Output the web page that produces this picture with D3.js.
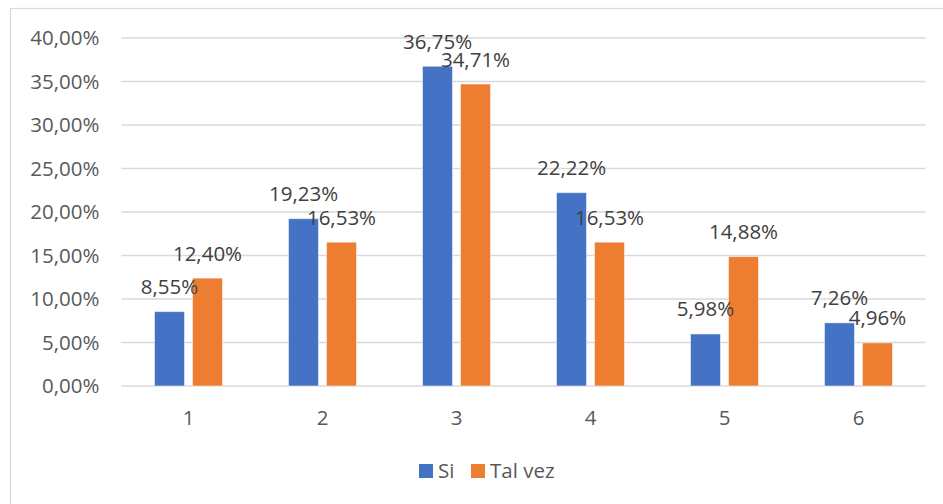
<!DOCTYPE html>
<html>
<head>
<meta charset="utf-8">
<script src="https://cdn.jsdelivr.net/npm/d3@7/dist/d3.min.js"></script>
<style>
  html, body { margin: 0; padding: 0; background: #fff; }
  svg { display: block; font-family: "Open Sans", "Noto Sans", sans-serif; }
</style>
</head>
<body>
<svg id="chart" width="943" height="504"></svg>
<script>
// Categories and series values (shares, as fractions)
const categories = ["1", "2", "3", "4", "5", "6"];
const seriesNames = ["Si", "Tal vez"];
const siValues = [0.0855, 0.1923, 0.3675, 0.2222, 0.0598, 0.0726];
const talVezValues = [0.1240, 0.1653, 0.3471, 0.1653, 0.1488, 0.0496];
const yTicks = [0, 0.05, 0.10, 0.15, 0.20, 0.25, 0.30, 0.35, 0.40];

const colors = { "Si": "#4472C4", "Tal vez": "#ED7D31" };
const seriesValues = { "Si": siValues, "Tal vez": talVezValues };
const fontSize = "20.5px";

const fmt = v => (v * 100).toFixed(2).replace(".", ",") + "%";

const svg = d3.select("#chart");

// outer chart frame
svg.append("rect")
  .attr("x", 10.5).attr("y", 8.5)
  .attr("width", 1000).attr("height", 1000)
  .attr("fill", "none")
  .attr("stroke", "#d9d9d9")
  .attr("stroke-width", 1.2);

const plot = { left: 121.5, right: 925.5, top: 38, bottom: 386 };

const y = d3.scaleLinear().domain([0, 0.40]).range([plot.bottom, plot.top]);
const x0 = d3.scaleBand().domain(categories)
  .range([plot.left, plot.right])
  .paddingInner(0.4925).paddingOuter(0.4925 / 2);
const x1 = d3.scaleBand().domain(seriesNames)
  .range([0, x0.bandwidth()])
  .paddingInner(0.2105);

// horizontal gridlines
svg.append("g")
  .selectAll("line")
  .data(yTicks)
  .join("line")
  .attr("x1", plot.left).attr("x2", plot.right)
  .attr("y1", d => y(d)).attr("y2", d => y(d))
  .attr("stroke", "#d9d9d9")
  .attr("stroke-width", 1.5);

// y axis tick labels
const yAxis = d3.axisLeft(y).tickValues(yTicks).tickFormat(fmt).tickSize(0).tickPadding(0);
const yg = svg.append("g")
  .attr("transform", `translate(${plot.left - 22},0)`)
  .call(yAxis);
yg.select(".domain").remove();
yg.selectAll("text")
  .attr("fill", "#595959")
  .style("font-size", fontSize)
  .style("font-family", "'Open Sans', sans-serif");

// x axis category labels
const xAxis = d3.axisBottom(x0).tickSize(0).tickPadding(0);
const xg = svg.append("g")
  .attr("transform", `translate(0,${plot.bottom})`)
  .call(xAxis);
xg.select(".domain").remove();
xg.selectAll("text")
  .attr("dy", null)
  .attr("y", 39)
  .attr("fill", "#595959")
  .style("font-size", fontSize)
  .style("font-family", "'Open Sans', sans-serif");

// bars
const rows = categories.map((c, i) => ({
  cat: c,
  items: seriesNames.map(s => ({ series: s, value: seriesValues[s][i] }))
}));

const groups = svg.append("g")
  .selectAll("g")
  .data(rows)
  .join("g")
  .attr("transform", d => `translate(${x0(d.cat)},0)`);

groups.selectAll("rect")
  .data(d => d.items)
  .join("rect")
  .attr("x", d => x1(d.series))
  .attr("width", x1.bandwidth())
  .attr("y", d => y(d.value))
  .attr("height", d => y(0) - y(d.value))
  .attr("fill", d => colors[d.series])
  .attr("stroke", "#ffffff")
  .attr("stroke-opacity", 0.5)
  .attr("stroke-width", 1);

// value labels above bars
groups.selectAll("text")
  .data(d => d.items)
  .join("text")
  .attr("x", d => x1(d.series) + x1.bandwidth() / 2)
  .attr("y", d => y(d.value) - 17.5)
  .attr("text-anchor", "middle")
  .attr("fill", "#404040")
  .style("font-size", fontSize)
  .text(d => fmt(d.value));

// legend
const legend = svg.append("g").attr("transform", "translate(419,464)");
const legendOffsets = [0, 52];
const li = legend.selectAll("g")
  .data(seriesNames)
  .join("g")
  .attr("transform", (d, i) => `translate(${legendOffsets[i]},0)`);
li.append("rect")
  .attr("width", 14).attr("height", 14)
  .attr("fill", d => colors[d]);
li.append("text")
  .attr("x", 19).attr("y", 13.5)
  .attr("fill", "#595959")
  .style("font-size", fontSize)
  .text(d => d);
</script>
</body>
</html>
